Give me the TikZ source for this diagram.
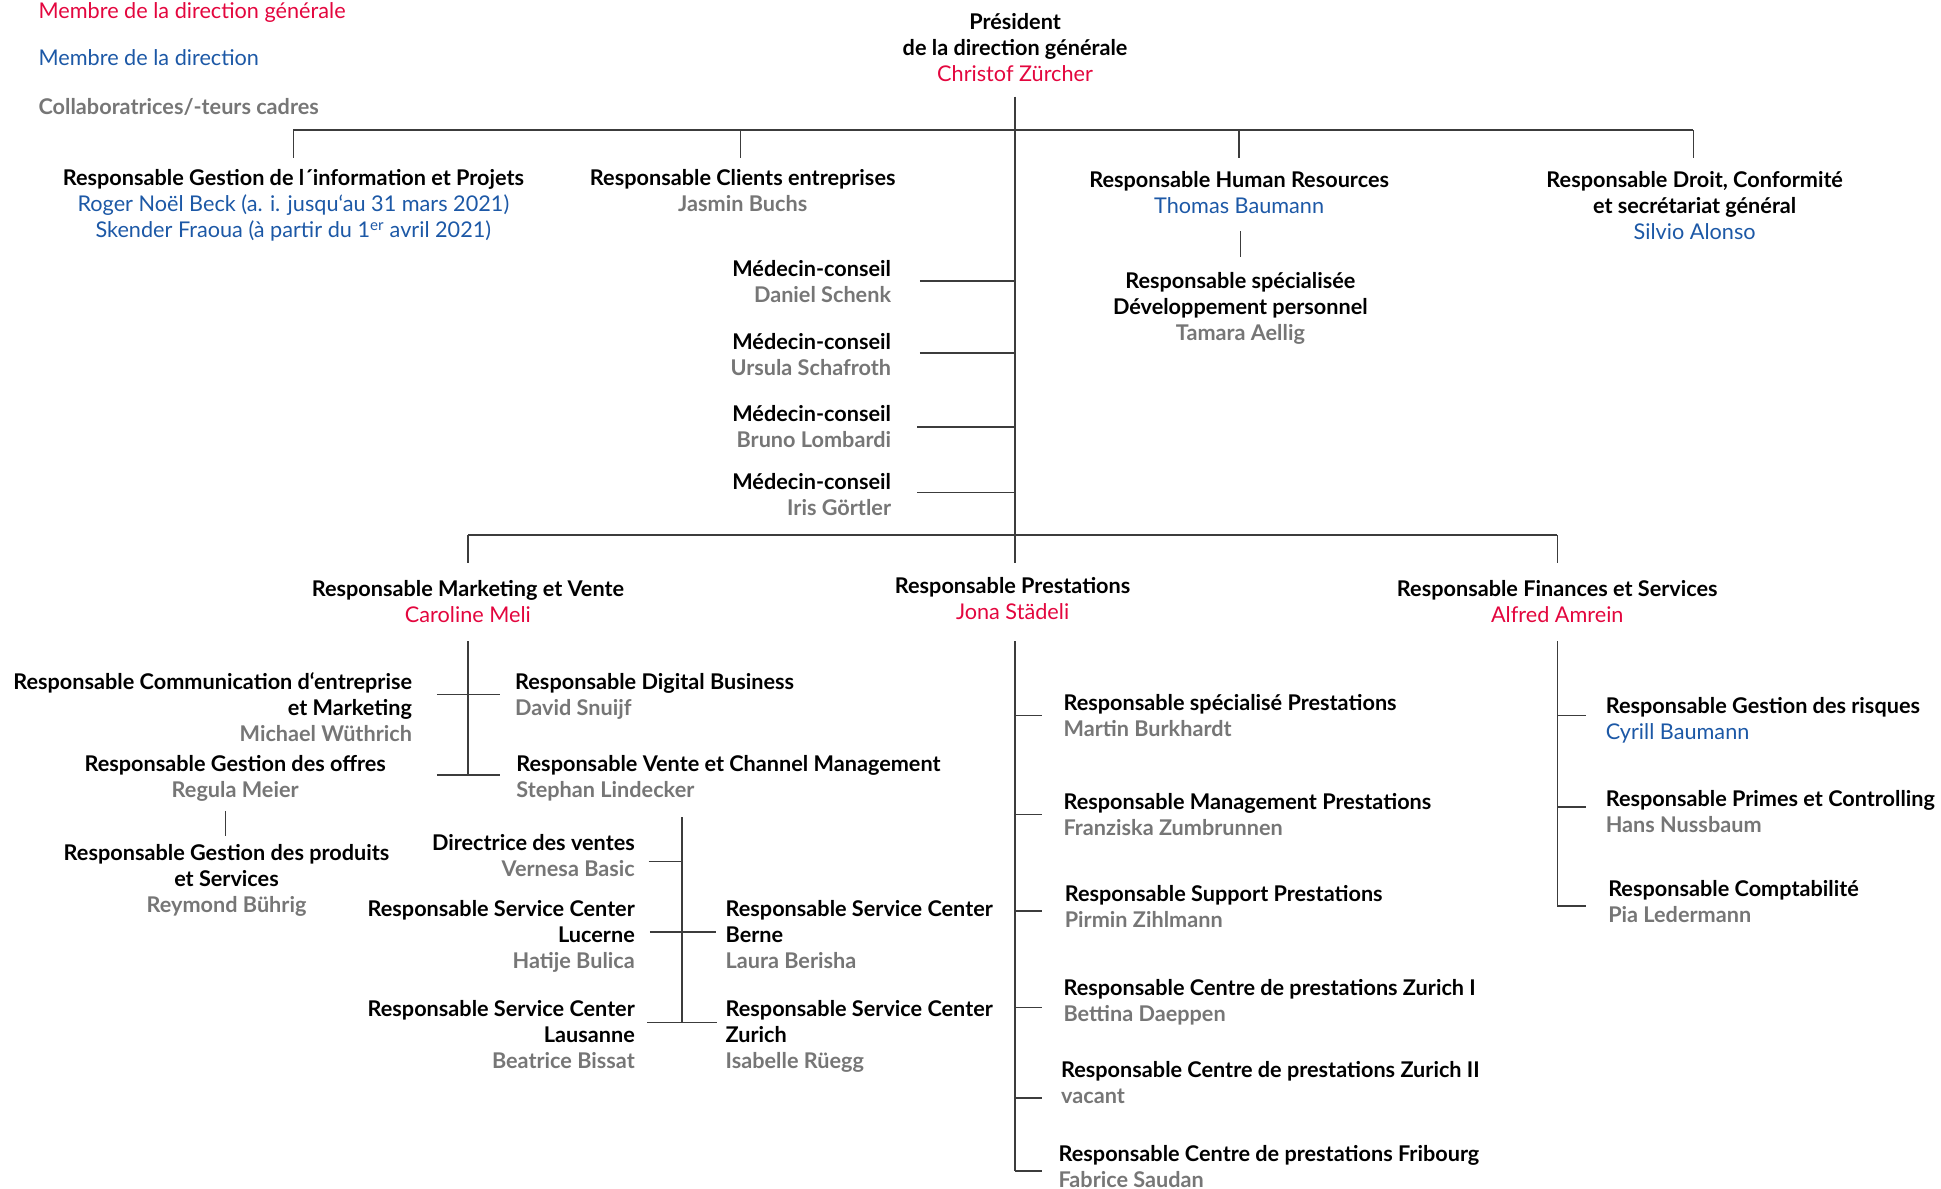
\documentclass[tikz,border=0pt]{standalone}
\usepackage{fontspec}
\setmainfont{Lato}
\definecolor{cred}{RGB}{227,6,62}
\definecolor{cblue}{RGB}{28,88,166}
\definecolor{cgrey}{RGB}{118,118,118}
\definecolor{cline}{RGB}{60,60,60}
\newcommand\Ttl[1]{\textbf{#1}}
\newcommand\Nred[1]{\textcolor{cred}{#1}}
\newcommand\Nblu[1]{\textcolor{cblue}{#1}}
\newcommand\Ngry[1]{\textcolor{cgrey}{\textbf{#1}}}
\begin{document}
\begin{tikzpicture}[x=1pt,y=-1pt,
  every node/.style={inner sep=0pt, font=\fontsize{17.5}{21}\selectfont, execute at begin node=\strut},
  cbox/.style={anchor=north, align=center, yshift=-3pt},
  rbox/.style={anchor=north east, align=right, yshift=-3pt},
  lbox/.style={anchor=north west, align=left, yshift=-3pt},
  link/.style={draw=cline, line width=1.2pt}]
\useasboundingbox (0,0) rectangle (1568,960);

% legend
\node[lbox] (leg1) at (31,-3) {\Nred{Membre de la direction générale}};
\node[lbox] (leg2) at (31,35) {\Nblu{Membre de la direction}};
\node[lbox] (leg3) at (31,75) {\Ngry{Collaboratrices/-teurs cadres}};

% top
\node[cbox] (pres) at (820,8) {\Ttl{Président}\\\Ttl{de la direction générale}\\\Nred{Christof Zürcher}};

\node[cbox] (info) at (237,134) {\Ttl{Responsable Gestion de l´information et Projets}\\\Nblu{Roger Noël Beck (a. i. jusqu‘au 31 mars 2021)}\\\Nblu{Skender Fraoua (à partir du 1\textsuperscript{er} avril 2021)}};
\node[cbox] (clients) at (600,134) {\Ttl{Responsable Clients entreprises}\\\Ngry{Jasmin Buchs}};
\node[cbox] (hr) at (1001,135) {\Ttl{Responsable Human Resources}\\\Nblu{Thomas Baumann}};
\node[cbox] (hrsub) at (1002,217) {\Ttl{Responsable spécialisée}\\\Ttl{Développement personnel}\\\Ngry{Tamara Aellig}};
\node[cbox] (droit) at (1369,135) {\Ttl{Responsable Droit, Conformité}\\\Ttl{et secrétariat général}\\\Nblu{Silvio Alonso}};

\node[rbox] (med1) at (720,207) {\Ttl{Médecin-conseil}\\\Ngry{Daniel Schenk}};
\node[rbox] (med2) at (720,266) {\Ttl{Médecin-conseil}\\\Ngry{Ursula Schafroth}};
\node[rbox] (med3) at (720,324) {\Ttl{Médecin-conseil}\\\Ngry{Bruno Lombardi}};
\node[rbox] (med4) at (720,379) {\Ttl{Médecin-conseil}\\\Ngry{Iris Görtler}};

% level 3
\node[cbox] (mkt) at (378,466) {\Ttl{Responsable Marketing et Vente}\\\Nred{Caroline Meli}};
\node[cbox] (prest) at (818,463) {\Ttl{Responsable Prestations}\\\Nred{Jona Städeli}};
\node[cbox] (fin) at (1258,466) {\Ttl{Responsable Finances et Services}\\\Nred{Alfred Amrein}};

% marketing subtree
\node[rbox] (comm) at (333,540) {\Ttl{Responsable Communication d‘entreprise}\\\Ttl{et Marketing}\\\Ngry{Michael Wüthrich}};
\node[lbox] (digi) at (416,541) {\Ttl{Responsable Digital Business}\\\Ngry{David Snuijf}};
\node[cbox] (offres) at (190,607) {\Ttl{Responsable Gestion des offres}\\\Ngry{Regula Meier}};
\node[lbox] (vente) at (417,607) {\Ttl{Responsable Vente et Channel Management}\\\Ngry{Stephan Lindecker}};
\node[cbox] (prod) at (183,679) {\Ttl{Responsable Gestion des produits}\\\Ttl{et Services}\\\Ngry{Reymond Bührig}};

\node[rbox] (dir) at (513,671) {\Ttl{Directrice des ventes}\\\Ngry{Vernesa Basic}};
\node[rbox] (luc) at (513,724) {\Ttl{Responsable Service Center}\\\Ttl{Lucerne}\\\Ngry{Hatije Bulica}};
\node[lbox] (ber) at (586,724) {\Ttl{Responsable Service Center}\\\Ttl{Berne}\\\Ngry{Laura Berisha}};
\node[rbox] (lau) at (513,805) {\Ttl{Responsable Service Center}\\\Ttl{Lausanne}\\\Ngry{Beatrice Bissat}};
\node[lbox] (zur) at (586,805) {\Ttl{Responsable Service Center}\\\Ttl{Zurich}\\\Ngry{Isabelle Rüegg}};

% prestations subtree
\node[lbox] (p1) at (859,558) {\Ttl{Responsable spécialisé Prestations}\\\Ngry{Martin Burkhardt}};
\node[lbox] (p2) at (859,638) {\Ttl{Responsable Management Prestations}\\\Ngry{Franziska Zumbrunnen}};
\node[lbox] (p3) at (860,712) {\Ttl{Responsable Support Prestations}\\\Ngry{Pirmin Zihlmann}};
\node[lbox] (p4) at (859,788) {\Ttl{Responsable Centre de prestations Zurich I}\\\Ngry{Bettina Daeppen}};
\node[lbox] (p5) at (857,854) {\Ttl{Responsable Centre de prestations Zurich II}\\\Ngry{vacant}};
\node[lbox] (p6) at (855,922) {\Ttl{Responsable Centre de prestations Fribourg}\\\Ngry{Fabrice Saudan}};

% finance subtree
\node[lbox] (f1) at (1297,560) {\Ttl{Responsable Gestion des risques}\\\Nblu{Cyrill Baumann}};
\node[lbox] (f2) at (1297,635) {\Ttl{Responsable Primes et Controlling}\\\Ngry{Hans Nussbaum}};
\node[lbox] (f3) at (1299,708) {\Ttl{Responsable Comptabilité}\\\Ngry{Pia Ledermann}};

% ---- connectors ----
\coordinate (presB) at (820,78);
\coordinate (prestT) at (820,455);
\draw[link] (presB) -- (prestT);
\draw[link] (237,105) coordinate (infoJ) -- (1368,105) coordinate (droitJ);
\draw[link] (infoJ) -- (237,128) coordinate (infoT);
\draw[link] (598,105) coordinate (cliJ) -- (598,128) coordinate (cliT);
\draw[link] (1001,105) coordinate (hrJ) -- (1001,128) coordinate (hrT);
\draw[link] (droitJ) -- (1368,128) coordinate (droitT);
\draw[link] (1002,187) coordinate (hrB) -- (1002,208) coordinate (hrsubT);

\foreach \y/\x in {227/743, 285/743, 345/741, 398/741}
  \draw[link] (\x,\y) -- (820,\y);

\draw[link] (378,432) coordinate (mktJ) -- (1258,432) coordinate (finJ);
\draw[link] (mktJ) -- (378,455) coordinate (mktT);
\draw[link] (finJ) -- (1258,455) coordinate (finT);

% marketing
\draw[link] (378,518) coordinate (mktB) -- (378,626) coordinate (mktE);
\draw[link] (353,561) coordinate (commR) -- (404,561) coordinate (digiL);
\draw[link] (353,626) coordinate (offR) -- (404,626) coordinate (venteL);
\draw[link] (182,655) coordinate (offB) -- (182,675) coordinate (prodT);

% sales
\draw[link] (551,660) coordinate (venteB) -- (551,826) coordinate (salesE);
\draw[link] (524,696) coordinate (dirR) -- (551,696);
\draw[link] (525,753) coordinate (lucR) -- (578,753) coordinate (berL);
\draw[link] (523,826) coordinate (lauR) -- (579,826) coordinate (zurL);

% prestations
\draw[link] (820,518) coordinate (prestB) -- (820,946) coordinate (prestE);
\foreach \y in {578,658,736,814,887,946}
  \draw[link] (820,\y) -- (842,\y);

% finances
\draw[link] (1258,518) coordinate (finB) -- (1258,732) coordinate (finE);
\foreach \y in {578,652,732}
  \draw[link] (1258,\y) -- (1281,\y);
\end{tikzpicture}
\end{document}
